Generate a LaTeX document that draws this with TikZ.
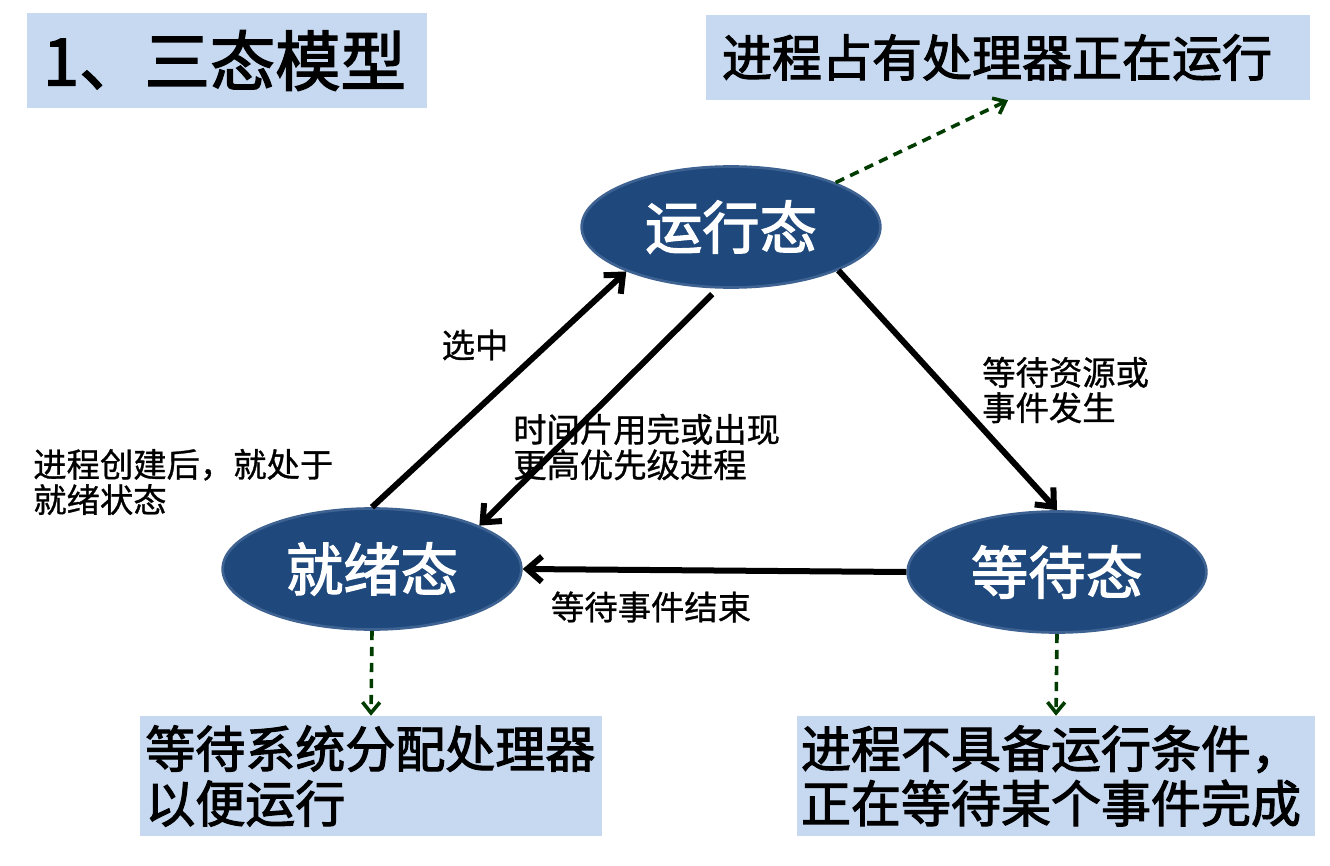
\documentclass[tikz,border=0pt]{standalone}
\usepackage{fontspec}
\setmainfont{Noto Sans CJK SC}
\newfontfamily\heavyfont[FakeBold=2.2]{Noto Sans CJK SC}
\newfontfamily\plainfont[FakeBold=0.9]{Noto Sans CJK SC}
\usetikzlibrary{arrows.meta, shapes.geometric}
\definecolor{PaleBlue}{RGB}{198, 217, 241}
\definecolor{StateBlue}{RGB}{31, 73, 125}
\definecolor{StateEdge}{RGB}{62, 98, 145}
\definecolor{HintGreen}{RGB}{0, 60, 0}

\begin{document}
\begin{tikzpicture}[x=0.75pt, y=-0.75pt,
  state/.style={ellipse, fill=StateBlue, draw=StateEdge, line width=2pt,
    minimum width=224pt, minimum height=90.75pt, inner sep=0pt,
    text=white, font=\fontsize{43}{48}\heavyfont},
  note/.style={fill=PaleBlue, inner ysep=0pt, align=left},
  transit/.style={draw=black, line width=4.5pt, -{Straight Barb[length=11pt, width=19pt]}},
  hint/.style={draw=HintGreen, line width=2.7pt, dash pattern=on 7pt off 5pt,
    -{Straight Barb[length=8pt, width=13pt]}},
  remark/.style={font=\fontsize{25}{26.5}\plainfont, align=left, inner sep=0pt}]

\useasboundingbox (0,0) rectangle (1330,866);

% Title and notes
\node[note, minimum width=300pt, minimum height=71.25pt, text width=276pt, inner xsep=12pt,
  font=\fontsize{49}{54}\heavyfont] (title) at (227,60.5) {1、三态模型};
\node[note, minimum height=63.75pt, text width=429pt, inner xsep=12pt,
  font=\fontsize{37.5}{41}\heavyfont] (topnote) at (1008,57.5) {进程占有处理器正在运行};
\node[note, minimum height=90pt, text width=338.5pt, inner xsep=4pt,
  font=\fontsize{37.5}{41}\heavyfont] (readynote) at (371,776) {等待系统分配处理器\\以便运行};
\node[note, minimum height=90pt, text width=382.5pt, inner xsep=3pt,
  font=\fontsize{37.5}{41}\heavyfont] (waitnote) at (1056,776) {进程不具备运行条件，\\正在等待某个事件完成};

% States
\node[state] (run) at (731,227) {运行态};
\node[state] (ready) at (372,569) {就绪态};
\node[state] (wait) at (1057,572) {等待态};

% Transitions
\draw[transit] (ready.north) -- (run.203);
\draw[transit, shorten <=6pt] (run.258) -- (ready.22);
\draw[transit] (run.-22) -- (wait.north);
\draw[transit] (wait.west) -- (ready.east);

% Pointers to notes
\draw[hint] (run.23) -- (topnote.south);
\draw[hint] (ready.south) -- (readynote.north);
\draw[hint] (wait.south) -- (waitnote.north);

% Labels
\node[remark] (pick) at (475,345) {选中};
\node[remark, anchor=west] (slice) at (513,447) {时间片用完或出现\\更高优先级进程};
\node[remark, anchor=west] (create) at (33,482) {进程创建后，就处于\\就绪状态};
\node[remark, anchor=west] (block) at (982,390) {等待资源或\\事件发生};
\node[remark] (wake) at (651,607) {等待事件结束};

\end{tikzpicture}
\end{document}
